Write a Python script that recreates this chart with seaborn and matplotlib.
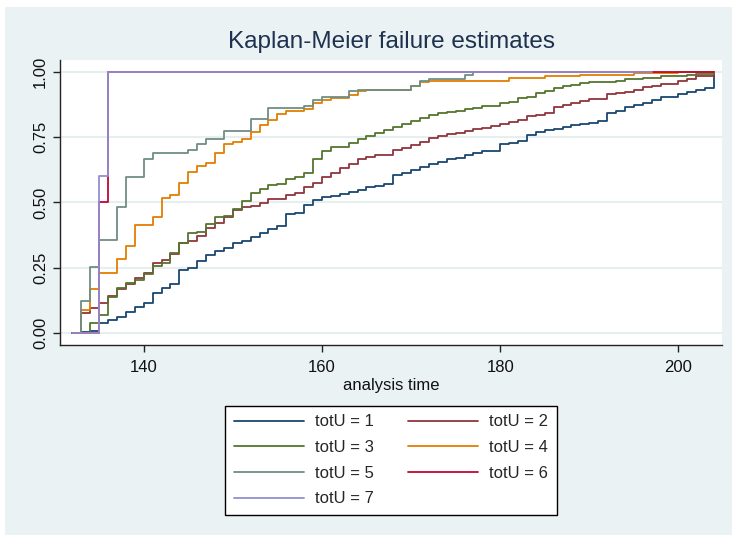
import matplotlib
matplotlib.use("Agg")
import matplotlib.pyplot as plt
import pandas as pd
import seaborn as sns
from matplotlib.lines import Line2D
from matplotlib.patches import Rectangle

# analysis time grid (one step per day)
days = list(range(132, 205))

totu1 = [0, 0.004, 0.01, 0.038, 0.051, 0.064, 0.083, 0.099, 0.117, 0.153,
         0.172, 0.189, 0.242, 0.248, 0.276, 0.299, 0.315, 0.325, 0.346, 0.353,
         0.369, 0.385, 0.397, 0.41, 0.456, 0.461, 0.49, 0.51, 0.52, 0.525,
         0.532, 0.541, 0.548, 0.558, 0.564, 0.571, 0.605, 0.611, 0.624, 0.634,
         0.647, 0.656, 0.665, 0.669, 0.682, 0.69, 0.698, 0.698, 0.724, 0.729,
         0.735, 0.758, 0.771, 0.777, 0.783, 0.79, 0.795, 0.80, 0.805, 0.81,
         0.841, 0.851, 0.864, 0.873, 0.882, 0.892, 0.902, 0.902, 0.915, 0.924,
         0.93, 0.936, 1.0]
totu2 = [0, 0.076, 0.096, 0.115, 0.143, 0.168, 0.189, 0.21, 0.229, 0.268,
         0.28, 0.303, 0.346, 0.354, 0.373, 0.401, 0.423, 0.446, 0.471, 0.482,
         0.487, 0.499, 0.512, 0.512, 0.529, 0.538, 0.558, 0.576, 0.596, 0.611,
         0.631, 0.647, 0.665, 0.675, 0.682, 0.682, 0.70, 0.707, 0.72, 0.732,
         0.745, 0.754, 0.762, 0.767, 0.775, 0.78, 0.785, 0.792, 0.80, 0.809,
         0.815, 0.831, 0.834, 0.843, 0.864, 0.873, 0.879, 0.889, 0.894, 0.894,
         0.915, 0.917, 0.924, 0.93, 0.943, 0.945, 0.953, 0.955, 0.966, 0.972,
         0.983, 0.983, 0.994]
totu3 = [0, 0, 0.041, 0.07, 0.14, 0.172, 0.191, 0.204, 0.227, 0.257,
         0.268, 0.308, 0.346, 0.385, 0.389, 0.417, 0.443, 0.45, 0.475, 0.506,
         0.538, 0.55, 0.566, 0.571, 0.589, 0.596, 0.611, 0.665, 0.698, 0.711,
         0.711, 0.729, 0.741, 0.754, 0.764, 0.777, 0.787, 0.80, 0.813, 0.825,
         0.834, 0.841, 0.847, 0.851, 0.856, 0.86, 0.869, 0.869, 0.879, 0.885,
         0.898, 0.904, 0.917, 0.927, 0.936, 0.945, 0.949, 0.958, 0.962, 0.962,
         0.962, 0.966, 0.971, 0.971, 0.978, 0.978, 0.983, 0.983, 0.983, 0.987,
         0.991, 0.991, 0.994]
totu4 = [0, 0.089, 0.168, 0.229, 0.229, 0.284, 0.334, 0.414, 0.414, 0.446,
         0.518, 0.529, 0.573, 0.615, 0.639, 0.652, 0.688, 0.722, 0.732, 0.744,
         0.771, 0.796, 0.815, 0.838, 0.851, 0.851, 0.856, 0.879, 0.892, 0.898,
         0.898, 0.911, 0.927, 0.932, 0.932, 0.932, 0.932, 0.932, 0.945, 0.96,
         0.966, 0.966, 0.966, 0.966, 0.966, 0.966, 0.966, 0.966, 0.966, 0.976,
         0.976, 0.976, 0.976, 0.982, 0.982, 0.982, 0.982, 0.989, 0.989, 0.989,
         0.989, 0.989, 0.989, 0.995, 0.995, 0.995, 0.995, 0.995, 1.0, 1.0,
         1.0, 1.0, 1.0]
totu5 = [0, 0.125, 0.255, 0.357, 0.357, 0.484, 0.596, 0.596, 0.665, 0.688,
         0.688, 0.688, 0.688, 0.70, 0.722, 0.744, 0.744, 0.775, 0.775, 0.775,
         0.819, 0.819, 0.861, 0.861, 0.861, 0.861, 0.869, 0.892, 0.902, 0.902,
         0.902, 0.927, 0.932, 0.932, 0.932, 0.932, 0.932, 0.932, 0.945, 0.966,
         0.972, 0.972, 0.972, 0.972, 0.987, 1.0, 1.0, 1.0, 1.0, 1.0,
         1.0, 1.0, 1.0, 1.0, 1.0, 1.0]
totu6 = [0, 0, 0, 0.5] + [1.0] * 69
totu7 = [0, 0, 0, 0.6] + [1.0] * 62

groups = ["totU = 1", "totU = 2", "totU = 3", "totU = 4",
          "totU = 5", "totU = 6", "totU = 7"]
series = [totu1, totu2, totu3, totu4, totu5, totu6, totu7]
colors = ["#1A476F", "#90353B", "#55752F", "#E37E00",
          "#6E8E84", "#C10534", "#938DD2"]

rows = []
for name, vals in zip(groups, series):
    for t, v in zip(days, vals):
        rows.append({"time": t, "failure": v, "group": name})
df = pd.DataFrame(rows)

sns.set_theme(style="white")
plt.rcParams["font.family"] = ["Liberation Sans", "DejaVu Sans"]

bg = "#EAF2F3"
fig = plt.figure(figsize=(7.37, 5.40), dpi=100)
fig.patch.set_facecolor("white")
fig.patches.append(Rectangle((5 / 737, 5 / 540), 727 / 737, 528 / 540,
                             transform=fig.transFigure, facecolor=bg,
                             edgecolor="none", zorder=-10))

ax = fig.add_axes([60 / 737, 1 - 345 / 540, 662 / 737, 285 / 540])
ax.set_facecolor("white")

sns.lineplot(data=df, x="time", y="failure", hue="group", hue_order=groups,
             palette=colors, drawstyle="steps-post", estimator=None,
             linewidth=1.3, legend=False, ax=ax)

ax.set_xlim(130.6, 204.9)
ax.set_ylim(-0.045, 1.045)
ax.set_xticks([140, 160, 180, 200])
ax.set_yticks([0, 0.25, 0.5, 0.75, 1.0])
ax.set_yticklabels(["0.00", "0.25", "0.50", "0.75", "1.00"], rotation=90,
                   va="center")
ax.yaxis.grid(True, color="#E6EEF0", linewidth=1.5)
ax.set_axisbelow(True)
for s in ["top", "right"]:
    ax.spines[s].set_visible(False)
for s in ["left", "bottom"]:
    ax.spines[s].set_color("#222222")
    ax.spines[s].set_linewidth(1.0)
ax.tick_params(axis="both", direction="out", length=5, width=1,
               color="#222222", labelsize=12, labelcolor="#111111",
               bottom=True, left=True)
ax.tick_params(axis="x", pad=6)
ax.set_xlabel("analysis time", fontsize=12, color="#111111", labelpad=2)
ax.set_ylabel("")

fig.text(392 / 737, 1 - 42 / 540, "Kaplan-Meier failure estimates",
         ha="center", va="center", fontsize=17.5, color="#1E3250")

handles = [Line2D([], [], color=c, linewidth=1.3) for c in colors]
order = [0, 2, 4, 6, 1, 3, 5]
leg = fig.legend([handles[i] for i in order], [groups[i] for i in order],
                 ncol=2, loc="upper center",
                 bbox_to_anchor=(391 / 737, 1 - 406 / 540),
                 borderaxespad=0, fontsize=12, handlelength=4.2,
                 handletextpad=0.7, columnspacing=2.0, labelspacing=0.64,
                 fancybox=False, framealpha=1, edgecolor="black",
                 borderpad=0.5)
leg.get_frame().set_linewidth(1.0)

fig.savefig("out.png", dpi=100, facecolor="white")
